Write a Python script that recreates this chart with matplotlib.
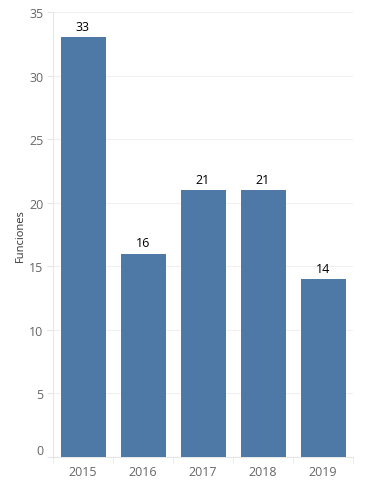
import matplotlib
matplotlib.use("Agg")
import matplotlib.pyplot as plt

# datos
years = ["2015", "2016", "2017", "2018", "2019"]
funciones = [33, 16, 21, 21, 14]
yticks = [0, 5, 10, 15, 20, 25, 30, 35]

plt.rcParams['font.family'] = ['Open Sans', 'DejaVu Sans']

fig = plt.figure(figsize=(3.76, 4.85), dpi=100)
ax = fig.add_axes([53 / 376, (485 - 458) / 485, 300 / 376, 445 / 485])

x = list(range(len(years)))
bars = ax.bar(x, funciones, width=0.75, color="#4e79a7", zorder=3)
for xi, v in zip(x, funciones):
    ax.text(xi, v + 0.35, str(v), ha="center", va="bottom", fontsize=9, color="#000000", zorder=4)

ax.set_xlim(-0.5, len(years) - 0.5)
ax.set_ylim(0, 35)
ax.set_yticks(yticks)
ax.set_xticks(x)
ax.set_xticklabels(years)
ax.tick_params(axis="both", labelsize=9, labelcolor="#666666", color="#e6e6e6", length=4)
ax.tick_params(axis="x", length=0, pad=6)
ax.tick_params(axis="y", pad=3)
# el 0 queda un poco por encima del eje
ax.get_yticklabels()[0].set_va("bottom")
ax.set_xticks([i - 0.5 for i in range(len(years) + 1)], minor=True)
ax.tick_params(axis="x", which="minor", length=4, color="#e6e6e6")

ax.grid(axis="y", color="#f0f0f0", linewidth=0.8, zorder=0)
for s in ["top", "right"]:
    ax.spines[s].set_visible(False)
for s in ["left", "bottom"]:
    ax.spines[s].set_color("#e6e6e6")
    ax.spines[s].set_linewidth(0.8)

ax.set_ylabel("Funciones", fontsize=8, color="#333333", labelpad=2)

fig.savefig("out.png", dpi=100)
